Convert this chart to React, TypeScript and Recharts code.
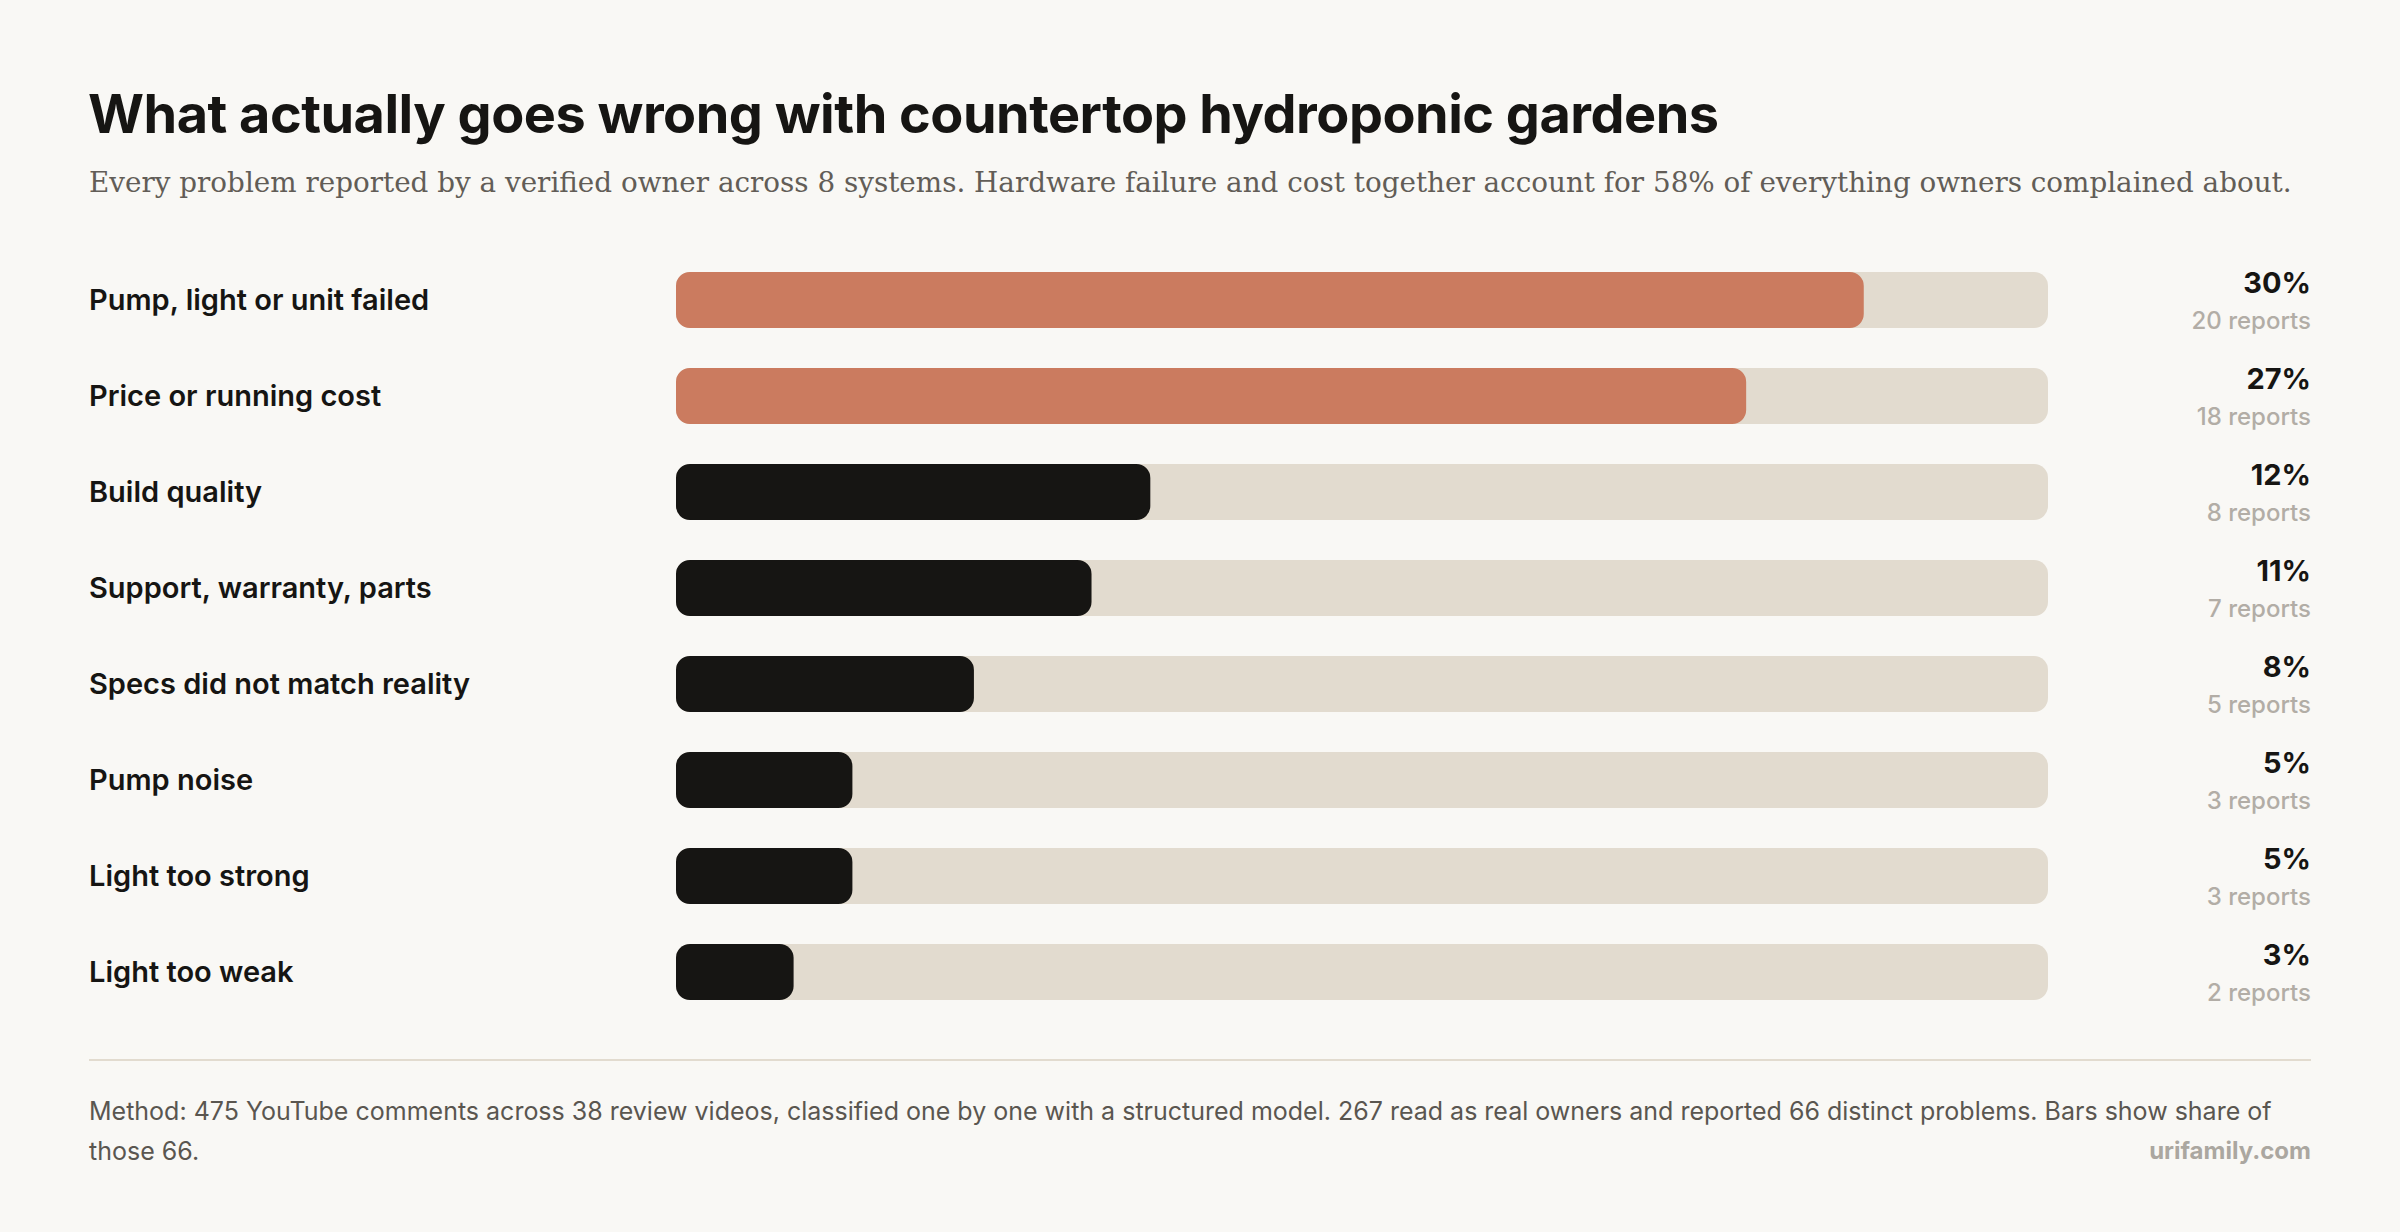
import React from 'react'
import { BarChart, Bar, XAxis, YAxis, Cell } from 'recharts'

const problems = [
    'Pump, light or unit failed',
    'Price or running cost',
    'Build quality',
    'Support, warranty, parts',
    'Specs did not match reality',
    'Pump noise',
    'Light too strong',
    'Light too weak',
]
const share = [30.3, 27.3, 12.1, 10.6, 7.6, 4.5, 4.5, 3.0]
const shareLabels = ['30%', '27%', '12%', '11%', '8%', '5%', '5%', '3%']
const reports = [20, 18, 8, 7, 5, 3, 3, 2]
const highlighted = [true, true, false, false, false, false, false, false]

const methodLines = [
    'Method: 475 YouTube comments across 38 review videos, classified one by one with a structured model. 267 read as real owners and reported 66 distinct problems. Bars show share of',
    'those 66.',
]

const INK = '#161513'
const ACCENT = '#cb7b5f'
const TRACK = '#e2dbcf'
const BG = '#f9f8f5'
const FONT = 'Inter, "Noto Sans", sans-serif'

const LEFT_W = 587
const RIGHT_W = 263

const LeftTick = (props: any) => {
    const { x, y, payload } = props
    return (
        <text
            x={x - LEFT_W}
            y={y}
            dy={10}
            fill={INK}
            fontFamily={FONT}
            fontSize={29}
            fontWeight={600}
            textAnchor='start'
        >
            {payload.value}
        </text>
    )
}

const RightTick = (props: any) => {
    const { x, y, index } = props
    return (
        <g>
            <text
                x={x + RIGHT_W}
                y={y - 7}
                fill={INK}
                fontFamily={FONT}
                fontSize={29}
                fontWeight={700}
                textAnchor='end'
            >
                {shareLabels[index]}
            </text>
            <text
                x={x + RIGHT_W}
                y={y + 29}
                fill='#b2ada6'
                fontFamily={FONT}
                fontSize={24}
                fontWeight={500}
                textAnchor='end'
            >
                {reports[index]} reports
            </text>
        </g>
    )
}

const App: React.FC = () => {
    const data = problems.map((name, i) => ({
        name,
        share: share[i],
        reports: reports[i],
    }))

    return (
        <div
            style={{
                position: 'relative',
                width: 2400,
                height: 1232,
                background: BG,
                fontFamily: FONT,
                overflow: 'hidden',
            }}
        >
            <style>{'body{margin:0}'}</style>
            <div
                style={{
                    position: 'absolute',
                    left: 88,
                    top: 81,
                    fontSize: 54,
                    fontWeight: 700,
                    letterSpacing: '-0.5px',
                    color: INK,
                    whiteSpace: 'nowrap',
                }}
            >
                What actually goes wrong with countertop hydroponic gardens
            </div>
            <div
                style={{
                    position: 'absolute',
                    left: 89,
                    top: 166,
                    fontSize: 27.8,
                    fontFamily: '"DejaVu Serif", serif',
                    color: '#625d57',
                    whiteSpace: 'nowrap',
                }}
            >
                Every problem reported by a verified owner across 8 systems. Hardware failure and cost together account for 58% of everything owners complained about.
            </div>

            <div style={{ position: 'absolute', left: 89, top: 252 }}>
                <BarChart
                    width={2222}
                    height={768}
                    data={data}
                    layout='vertical'
                    margin={{ top: 0, right: 0, bottom: 0, left: 0 }}
                    barCategoryGap={0}
                >
                    <XAxis type='number' domain={[0, 35]} hide />
                    <YAxis
                        yAxisId='left'
                        type='category'
                        dataKey='name'
                        width={LEFT_W}
                        axisLine={false}
                        tickLine={false}
                        tickSize={0}
                        tickMargin={0}
                        tick={<LeftTick />}
                        interval={0}
                    />
                    <YAxis
                        yAxisId='right'
                        orientation='right'
                        type='category'
                        dataKey='name'
                        width={RIGHT_W}
                        axisLine={false}
                        tickLine={false}
                        tickSize={0}
                        tickMargin={0}
                        tick={<RightTick />}
                        interval={0}
                    />
                    <Bar
                        yAxisId='left'
                        dataKey='share'
                        barSize={56}
                        radius={14}
                        background={{ fill: TRACK, radius: 14 }}
                        isAnimationActive={false}
                    >
                        {data.map((d, i) => (
                            <Cell key={d.name} fill={highlighted[i] ? ACCENT : INK} />
                        ))}
                    </Bar>
                </BarChart>
            </div>

            <div
                style={{
                    position: 'absolute',
                    left: 89,
                    top: 1059,
                    width: 2222,
                    height: 2,
                    background: TRACK,
                }}
            />
            {methodLines.map((line, i) => (
                <div
                    key={i}
                    style={{
                        position: 'absolute',
                        left: 89,
                        top: 1091 + i * 40,
                        fontSize: 25,
                        lineHeight: '40px',
                        color: '#5a5650',
                        whiteSpace: 'nowrap',
                    }}
                >
                    {line}
                </div>
            ))}
            <div
                style={{
                    position: 'absolute',
                    right: 89,
                    top: 1131,
                    fontSize: 24,
                    lineHeight: '40px',
                    fontWeight: 700,
                    color: '#aba7a0',
                }}
            >
                urifamily.com
            </div>
        </div>
    )
}

export default App
